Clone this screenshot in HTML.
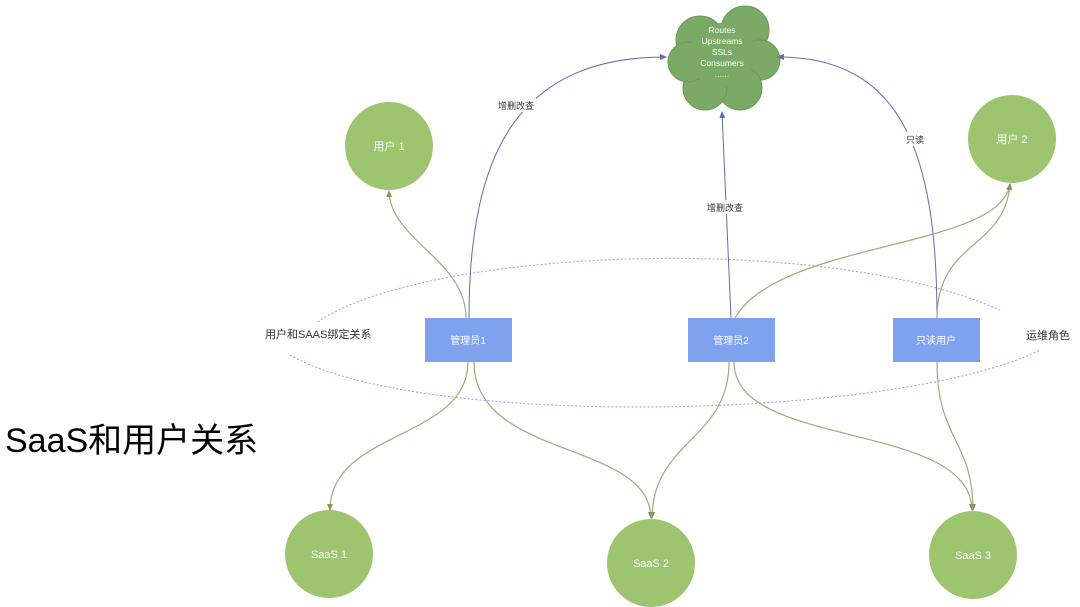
<!DOCTYPE html>
<html><head><meta charset="utf-8"><style>
html,body{margin:0;padding:0;background:#fff;}
svg{display:block}
text{font-family:"Liberation Sans","Noto Sans CJK SC",sans-serif}
</style></head><body>
<svg width="1080" height="607" viewBox="0 0 1080 607" xmlns="http://www.w3.org/2000/svg">
<defs>
<marker id="ab" markerWidth="8" markerHeight="8" refX="6" refY="4" orient="auto" markerUnits="userSpaceOnUse"><path d="M0,1 L7,4 L0,7 Z" fill="#5b6fb0"/></marker>
<marker id="ag" markerWidth="8" markerHeight="8" refX="6" refY="4" orient="auto" markerUnits="userSpaceOnUse"><path d="M0,1 L7,4 L0,7 Z" fill="#8a9460"/></marker>
</defs>
<!-- dotted ellipses -->
<path d="M318,322 C420,250 820,230 1000,310" fill="none" stroke="#9a9ae8" stroke-width="1" stroke-dasharray="2,2"/>
<path d="M290,355 C420,430 900,420 1040,350" fill="none" stroke="#9a9ae8" stroke-width="1" stroke-dasharray="2,2"/>
<!-- cloud -->
<g fill="#7aaa66" stroke="#6a9858" stroke-width="1">
<circle cx="700" cy="40" r="24"/><circle cx="745" cy="30" r="24"/><circle cx="760" cy="60" r="20"/>
<circle cx="740" cy="88" r="22"/><circle cx="705" cy="88" r="22"/><circle cx="688" cy="62" r="20"/>
<circle cx="722" cy="55" r="32" stroke="none"/>
</g>
<g fill="#fff" font-size="8.5" text-anchor="middle">
<text x="722" y="33">Routes</text><text x="722" y="44">Upstreams</text><text x="722" y="55">SSLs</text><text x="722" y="66">Consumers</text><text x="722" y="77">......</text>
</g>
<!-- blue edges -->
<g fill="none" stroke="#5b6fb0" stroke-width="1">
<path d="M469,318 C469,150 520,57 666,57" marker-end="url(#ab)"/>
<path d="M731,318 L722,112" marker-end="url(#ab)"/>
<path d="M937,318 C937,150 900,57 778,57" marker-end="url(#ab)"/>
</g>
<!-- olive edges -->
<g fill="none" stroke="#a4a87a" stroke-width="1.2">
<path d="M466,318 C466,260 390,240 389,191" marker-end="url(#ag)"/>
<path d="M735,318 C780,240 1000,250 1010,184" marker-end="url(#ag)"/>
<path d="M937,318 C937,240 1005,250 1010,184" marker-end="url(#ag)"/>
<path d="M468,362 C468,440 330,430 330,510" marker-end="url(#ag)"/>
<path d="M474,362 C474,460 650,440 651,518" marker-end="url(#ag)"/>
<path d="M729,362 C729,440 653,440 652,518" marker-end="url(#ag)"/>
<path d="M734,362 C734,450 970,420 972,510" marker-end="url(#ag)"/>
<path d="M937,362 C937,440 973,440 973,510" marker-end="url(#ag)"/>
</g>
<!-- edge labels -->
<g font-size="9" fill="#333" text-anchor="middle">
<rect x="496" y="98" width="40" height="14" fill="#fff"/><text x="516" y="109">增删改查</text>
<rect x="705" y="200" width="40" height="14" fill="#fff"/><text x="725" y="211">增删改查</text>
<rect x="903" y="132" width="24" height="14" fill="#fff"/><text x="915" y="143">只读</text>
</g>
<!-- circles -->
<g fill="#9dc46e">
<circle cx="389" cy="146" r="44"/><circle cx="1012" cy="139" r="44"/>
<circle cx="329" cy="554" r="44"/><circle cx="651" cy="563" r="44"/><circle cx="973" cy="555" r="44"/>
</g>
<g fill="#fff" font-size="11" text-anchor="middle">
<text x="389" y="150">用户 1</text><text x="1012" y="143">用户 2</text>
<text x="329" y="558">SaaS 1</text><text x="651" y="567">SaaS 2</text><text x="973" y="559">SaaS 3</text>
</g>
<!-- boxes -->
<g fill="#7ea2ee">
<rect x="425" y="318" width="87" height="44"/><rect x="688" y="318" width="87" height="44"/><rect x="893" y="318" width="87" height="44"/>
</g>
<g fill="#fff" font-size="10" text-anchor="middle">
<text x="468" y="344">管理员1</text><text x="731" y="344">管理员2</text><text x="936" y="344">只读用户</text>
</g>
<g fill="#333" font-size="11">
<text x="265" y="338">用户和SAAS绑定关系</text>
<text x="1026" y="339">运维角色</text>
</g>
<text x="5" y="452" font-size="34" fill="#000">SaaS和用户关系</text>
</svg>
</body></html>
